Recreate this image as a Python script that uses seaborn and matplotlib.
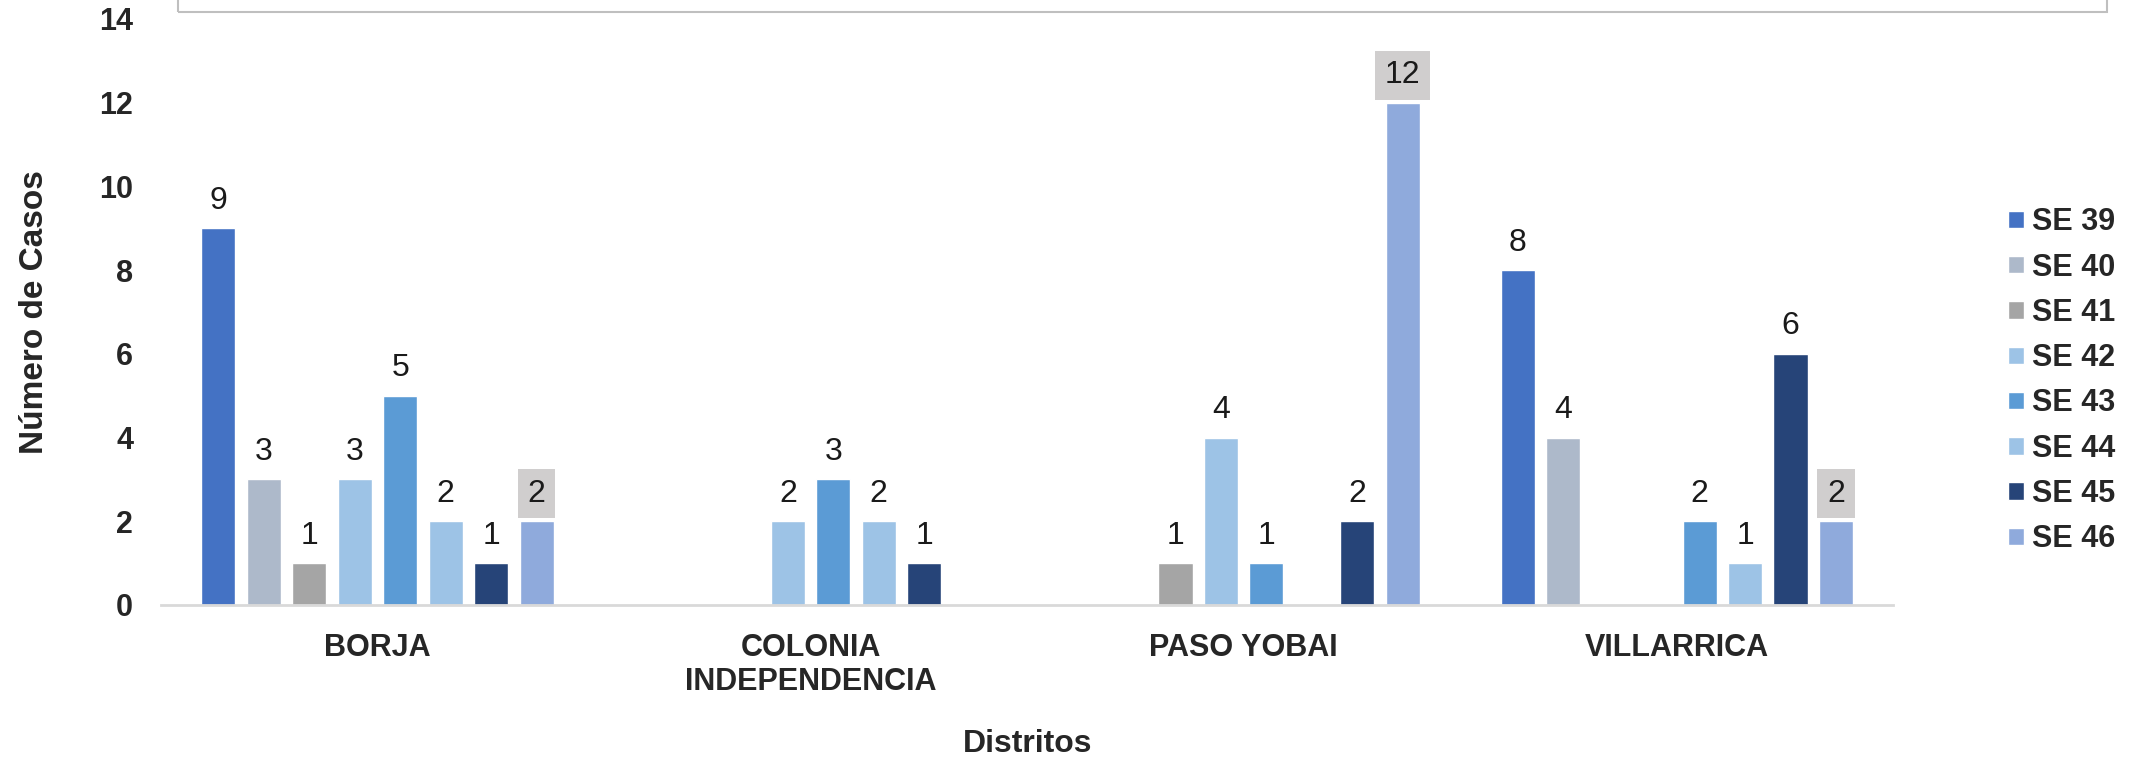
import numpy as np
import pandas as pd
import matplotlib
matplotlib.use('Agg')
import matplotlib.pyplot as plt
from matplotlib.patches import Rectangle
import seaborn as sns

# data
distritos = ['BORJA', 'COLONIA\nINDEPENDENCIA', 'PASO YOBAI', 'VILLARRICA']
semanas = ['SE 39', 'SE 40', 'SE 41', 'SE 42', 'SE 43', 'SE 44', 'SE 45', 'SE 46']
borja = [9, 3, 1, 3, 5, 2, 1, 2]
colonia = [0, 0, 0, 2, 3, 2, 1, 0]
paso_yobai = [0, 0, 1, 4, 1, 0, 2, 12]
villarrica = [8, 4, 0, 0, 2, 1, 6, 2]
colores = ['#4472C4', '#ADB9CA', '#A5A5A5', '#9DC3E6',
           '#5B9BD5', '#9DC3E6', '#264478', '#8FAADC']

sns.set_style('white')
plt.rcParams['font.family'] = ['Liberation Sans', 'DejaVu Sans']

# long format table for seaborn
rows = []
for d, vals in zip(distritos, [borja, colonia, paso_yobai, villarrica]):
    for s, v in zip(semanas, vals):
        rows.append({'Distrito': d, 'Semana': s, 'Casos': v})
df = pd.DataFrame(rows)

fig = plt.figure(figsize=(21.37, 7.6), dpi=100)
ax = fig.add_axes([0.0753, 0.204, 0.8107, 0.771])

sns.barplot(data=df, x='Distrito', y='Casos', hue='Semana', palette=colores,
            width=0.84, gap=0.25, saturation=1, ax=ax, legend=True)

ax.set_ylim(0, 14)
ax.set_yticks(np.arange(0, 15, 2))
ax.set_xlim(-0.5, 3.5)

# value labels, the last week gets a grey box
for i, cont in enumerate(ax.containers):
    for bar in cont:
        h = bar.get_height()
        if h <= 0:
            continue
        kw = {}
        if i == len(semanas) - 1:
            kw['bbox'] = dict(boxstyle='square,pad=0.3', fc='#D0CECE', ec='none')
        ax.annotate(f'{int(h)}', (bar.get_x() + bar.get_width() / 2, h),
                    xytext=(0, 9), textcoords='offset points',
                    ha='center', va='bottom', fontsize=23, color='#1a1a1a', **kw)

for s in ['top', 'right', 'left']:
    ax.spines[s].set_visible(False)
ax.spines['bottom'].set_color('#D9D9D9')
ax.spines['bottom'].set_linewidth(2)

ax.tick_params(axis='both', length=0)
ax.tick_params(axis='x', pad=20)
ax.tick_params(axis='y', pad=20)
for lab in ax.get_xticklabels() + ax.get_yticklabels():
    lab.set_fontweight('bold')
    lab.set_fontsize(22)
for lab in ax.get_xticklabels():
    lab.set_linespacing(1.2)

ax.set_xlabel('Distritos', fontsize=23, fontweight='bold')
ax.set_ylabel('Número de Casos', fontsize=24, fontweight='bold')
ax.xaxis.set_label_coords(0.5, -0.212)
ax.yaxis.set_label_coords(-0.064, 0.5)

handles, labels = ax.get_legend_handles_labels()
ax.legend_.remove()
fig.legend(handles, labels, loc='center left', bbox_to_anchor=(0.9396, 0.499),
           frameon=False, borderpad=0, borderaxespad=0,
           handlelength=0.52, handleheight=0.5, handletextpad=0.26,
           labelspacing=0.5, prop={'weight': 'bold', 'size': 22})

# cut-off title box at the top
fig.patches.append(Rectangle((178 / 2137, 1 - 12 / 760), (2107 - 178) / 2137, 0.05,
                             transform=fig.transFigure, fill=False,
                             ec='#BFBFBF', lw=1.5))

fig.savefig('out.png', dpi=100)
